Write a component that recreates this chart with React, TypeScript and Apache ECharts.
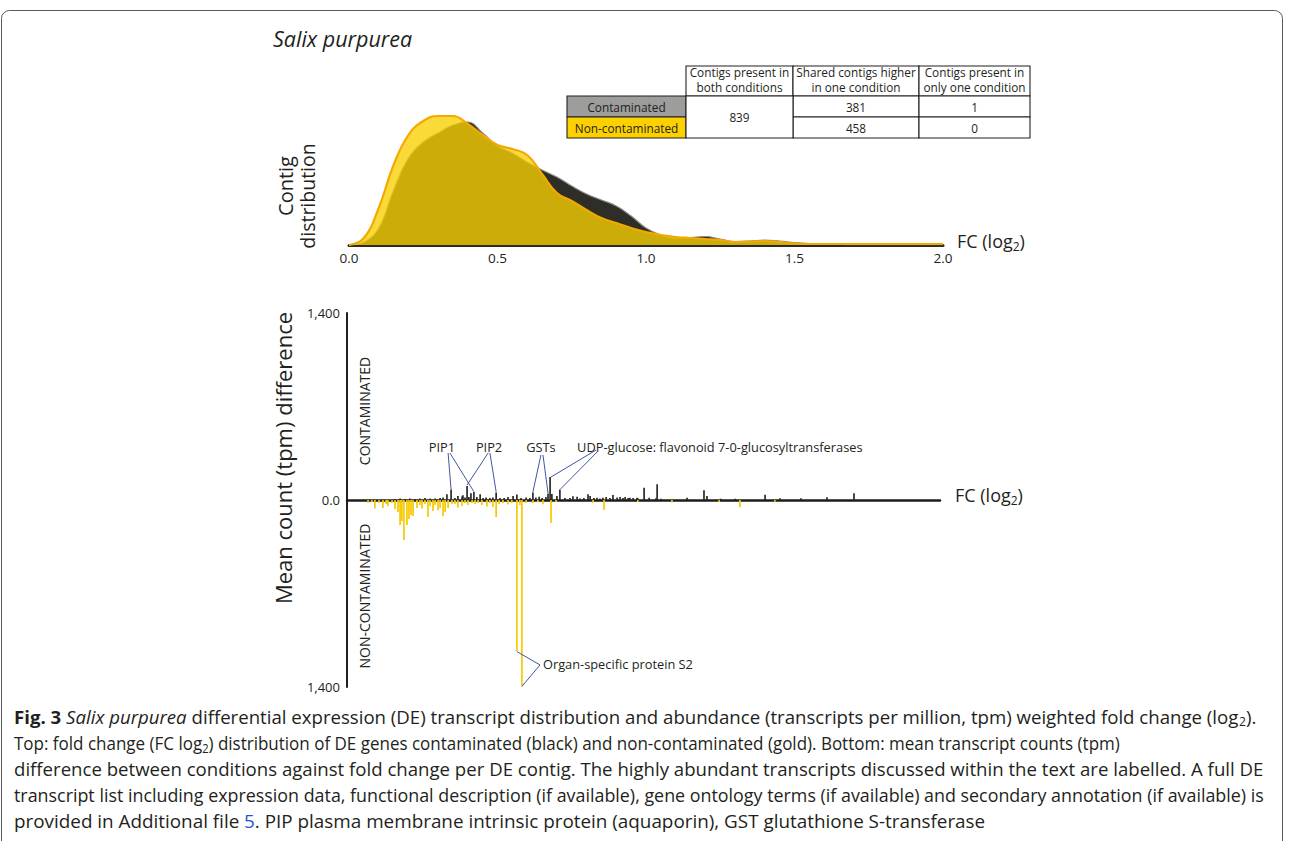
import React, { useEffect, useRef } from "react";
import * as echarts from "echarts";

// ---------- DATA ----------
// Top panel: fold change grid (log2) and contig density (relative units)
const densityFC = [0, 0.05, 0.1, 0.15, 0.2, 0.25, 0.3, 0.35, 0.4, 0.45, 0.5, 0.55, 0.6, 0.65, 0.7, 0.75, 0.8, 0.85, 0.9, 0.95, 1, 1.05, 1.1, 1.15, 1.2, 1.25, 1.3, 1.35, 1.4, 1.45, 1.5, 1.55, 1.6, 1.65, 1.7, 1.75, 1.8, 1.85, 1.9, 1.95, 2];
const contaminatedDensity = [0, 3, 17, 55, 87, 103, 112, 120, 123, 112, 99, 92, 83, 75, 68, 59, 51, 45, 39, 29, 17, 10, 7, 7.5, 8.5, 6, 3.5, 4, 5, 4, 2.5, 1.5, 1, 0.5, 0.3, 0.3, 0.3, 0.3, 0.3, 0.3, 0.3];
const nonContaminatedDensity = [0, 7, 37, 80, 110, 124, 129, 129, 121, 110, 100, 96, 90, 71, 52, 44, 35, 27, 22, 17, 13, 10, 8, 7, 6, 5, 3, 3.5, 4, 3, 1.5, 1, 1, 1, 1, 1, 1, 1, 1, 1, 1];
const fcTickLabels = ["0.0", "0.5", "1.0", "1.5", "2.0"];

// Bottom panel: [fold change (log2), mean count (tpm) difference]
const contaminatedBars: [number, number][] = [
  [0.162, 7], [0.179, 11], [0.196, 7], [0.212, 11], [0.229, 7], [0.246, 11], [0.263, 15], [0.28, 11], [0.297, 11], [0.314, 15],
  [0.324, 19], [0.337, 43], [0.351, 79], [0.364, 15], [0.374, 30], [0.388, 26], [0.391, 35], [0.398, 19], [0.405, 105], [0.411, 22],
  [0.418, 50], [0.428, 60], [0.438, 22], [0.449, 43], [0.459, 15], [0.469, 19], [0.482, 15], [0.492, 19], [0.503, 56], [0.516, 15],
  [0.53, 15], [0.543, 22], [0.56, 30], [0.573, 41], [0.587, 15], [0.604, 19], [0.617, 15], [0.627, 56], [0.637, 19], [0.648, 25],
  [0.658, 15], [0.671, 22], [0.678, 49], [0.685, 172], [0.691, 45], [0.708, 30], [0.718, 79], [0.735, 15], [0.752, 15], [0.762, 28],
  [0.776, 25], [0.786, 11], [0.799, 15], [0.813, 43], [0.82, 30], [0.833, 15], [0.843, 17], [0.853, 11], [0.863, 17], [0.874, 22],
  [0.887, 15], [0.897, 37], [0.911, 19], [0.921, 22], [0.931, 15], [0.938, 22], [0.948, 15], [0.954, 17], [0.965, 15], [0.978, 17],
  [0.981, 13], [1.002, 92], [1.019, 17], [1.042, 13], [1.046, 118], [1.059, 10], [1.147, 17], [1.204, 73], [1.214, 30], [1.261, 10],
  [1.309, 10], [1.41, 40], [1.46, 13], [1.531, 13], [1.619, 20], [1.71, 50],
];
const nonContaminatedBars: [number, number][] = [
  [0.071, 22], [0.084, 15], [0.094, 64], [0.108, 22], [0.121, 60], [0.132, 30], [0.138, 45], [0.152, 22], [0.162, 67], [0.172, 90],
  [0.179, 187], [0.185, 157], [0.192, 300], [0.202, 187], [0.209, 142], [0.216, 112], [0.223, 120], [0.236, 60], [0.246, 37], [0.253, 64],
  [0.263, 30], [0.273, 127], [0.28, 45], [0.29, 82], [0.297, 37], [0.307, 75], [0.314, 60], [0.324, 120], [0.331, 90], [0.341, 60],
  [0.354, 30], [0.364, 30], [0.374, 56], [0.388, 45], [0.398, 22], [0.408, 37], [0.422, 22], [0.432, 30], [0.442, 22], [0.455, 37],
  [0.472, 49], [0.482, 22], [0.492, 52], [0.503, 127], [0.513, 30], [0.526, 22], [0.543, 34], [0.556, 22], [0.573, 1130], [0.583, 37],
  [0.59, 1395], [0.604, 22], [0.627, 22], [0.644, 15], [0.661, 32], [0.688, 172], [0.705, 15], [0.83, 20], [0.867, 75], [0.981, 15],
  [1.096, 19], [1.255, 15], [1.325, 52], [1.443, 13],
];
const yAxisMax = 1400;

// Summary table
const tableHeaders = ["Contigs present in\nboth conditions", "Shared contigs higher\nin one condition", "Contigs present in\nonly one condition"];
const tableRows = ["Contaminated", "Non-contaminated"];
const presentInBoth = 839;
const higherInOne = [381, 458];
const presentInOnlyOne = [1, 0];

// Annotations (data coordinates of the bottom panel)
const annotationTexts = ["PIP1", "PIP2", "GSTs", "UDP-glucose: flavonoid 7-0-glucosyltransferases", "Organ-specific protein S2"];
const annotationAnchors: [number, number][] = [[0.32, 397], [0.479, 397], [0.654, 397], [0.776, 397], [0.661, -1228]];
const annotationAligns = ["center", "center", "center", "left", "left"];
const leaderLines: [number, number][][] = [
  [[0.341, 352], [0.351, 80]], [[0.347, 352], [0.428, 62]],
  [[0.476, 352], [0.405, 112]], [[0.482, 352], [0.503, 62]],
  [[0.654, 337], [0.627, 60]], [[0.661, 337], [0.678, 52]],
  [[0.84, 374], [0.688, 172]], [[0.847, 367], [0.72, 82]],
  [[0.651, -1235], [0.573, -1135]], [[0.651, -1235], [0.59, -1395]],
];

// Caption
const captionLines = [
  "{b|Fig. 3} {i|Salix purpurea} differential expression (DE) transcript distribution and abundance (transcripts per million, tpm) weighted fold change (log{sub|2}).",
  "Top: fold change (FC log{sub|2}) distribution of DE genes contaminated (black) and non-contaminated (gold). Bottom: mean transcript counts (tpm)",
  "difference between conditions against fold change per DE contig. The highly abundant transcripts discussed within the text are labelled. A full DE",
  "transcript list including expression data, functional description (if available), gene ontology terms (if available) and secondary annotation (if available) is",
  "provided in Additional file {link|5}. PIP plasma membrane intrinsic protein (aquaporin), GST glutathione S-transferase",
];

// ---------- STYLE / LAYOUT ----------
const FONT = '"Open Sans", "Noto Sans", sans-serif';
const INK = "#231F20";
const GOLD = "#F9D000";
const BLACK_AREA = "#2E2D28";
const BLUE = "#4355A3";
const CAPTION_SIZE = 18.4;
const captionWidths = [1242, 1106, 1249, 1250, 971];
const captionY = [717, 743, 769, 795, 821];

function rich(size: number) {
  return {
    b: { fontSize: size, fontFamily: FONT, fontWeight: "bold", fill: INK },
    i: { fontSize: size, fontFamily: FONT, fontStyle: "italic", fill: INK },
    sub: { fontSize: Math.round(size * 0.65), fontFamily: FONT, fill: INK, padding: [Math.round(size * 0.55), 0, 0, 0] },
    link: { fontSize: size, fontFamily: FONT, fill: "#2C4FD8" },
  };
}

function measureRich(line: string, size: number): number {
  const ctx = document.createElement("canvas").getContext("2d");
  if (!ctx) return 0;
  const font = (style: string, weight: string, s: number) => `${style} ${weight} ${s}px ${FONT}`;
  const re = /\{(\w+)\|([^}]*)\}/g;
  let w = 0;
  let last = 0;
  let m: RegExpExecArray | null;
  while ((m = re.exec(line))) {
    ctx.font = font("normal", "normal", size);
    w += ctx.measureText(line.slice(last, m.index)).width;
    const k = m[1];
    if (k === "b") ctx.font = font("normal", "bold", size);
    else if (k === "i") ctx.font = font("italic", "normal", size);
    else if (k === "sub") ctx.font = font("normal", "normal", Math.round(size * 0.65));
    else ctx.font = font("normal", "normal", size);
    w += ctx.measureText(m[2]).width;
    last = re.lastIndex;
  }
  ctx.font = font("normal", "normal", size);
  w += ctx.measureText(line.slice(last)).width;
  return w;
}

function text(x: number, y: number, t: string, size: number, opts: any = {}) {
  const { rotation, align, italic, richStyle, fill, lineHeight, scaleX } = opts;
  return {
    type: "text",
    x,
    y,
    rotation: rotation || 0,
    scaleX: scaleX || 1,
    silent: true,
    style: {
      text: t,
      fill: fill || INK,
      fontSize: size,
      fontFamily: FONT,
      fontStyle: italic ? "italic" : "normal",
      textAlign: align || "center",
      verticalAlign: "middle",
      textVerticalAlign: "middle",
      lineHeight: lineHeight,
      rich: richStyle,
    },
  };
}

function buildTable() {
  const colX = [567, 686, 793, 919, 1030];
  const rowY = [66, 96, 117, 138];
  const els: any[] = [];
  const fs = 11.8;
  const cell = (x1: number, y1: number, x2: number, y2: number, fill: string) => ({
    type: "rect",
    silent: true,
    shape: { x: x1, y: y1, width: x2 - x1, height: y2 - y1 },
    style: { fill, stroke: INK, lineWidth: 1.1 },
  });
  tableHeaders.forEach((h, c) => {
    els.push(cell(colX[c + 1], rowY[0], colX[c + 2], rowY[1], "#ffffff"));
    els.push(text((colX[c + 1] + colX[c + 2]) / 2, 79.5, h, fs, { lineHeight: 15 }));
  });
  const rowFills = ["#9D9D9C", "#FDD100"];
  tableRows.forEach((r, i) => {
    const cy = (rowY[i + 1] + rowY[i + 2]) / 2;
    els.push(cell(colX[0], rowY[i + 1], colX[1], rowY[i + 2], rowFills[i]));
    els.push(text((colX[0] + colX[1]) / 2, cy, r, fs));
    els.push(cell(colX[2], rowY[i + 1], colX[3], rowY[i + 2], "#ffffff"));
    els.push(text((colX[2] + colX[3]) / 2, cy, String(higherInOne[i]), fs));
    els.push(cell(colX[3], rowY[i + 1], colX[4], rowY[i + 2], "#ffffff"));
    els.push(text((colX[3] + colX[4]) / 2, cy, String(presentInOnlyOne[i]), fs));
  });
  els.push(cell(colX[1], rowY[1], colX[2], rowY[3], "#ffffff"));
  els.push(text((colX[1] + colX[2]) / 2, (rowY[1] + rowY[3]) / 2, String(presentInBoth), fs));
  return els;
}

export default function App() {
  const ref = useRef<HTMLDivElement>(null);

  useEffect(() => {
    document.body.style.margin = "0";
    const chart = echarts.init(ref.current!, null, { renderer: "svg" });
    const option: any = {
      animation: false,
      backgroundColor: "#ffffff",
      textStyle: { fontFamily: FONT },
      grid: [
        { left: 349, top: 110, width: 594, height: 135 },
        { left: 347, top: 313, width: 593, height: 374 },
      ],
      xAxis: [
        {
          type: "value", gridIndex: 0, min: 0, max: 2, interval: 0.5,
          axisLine: { show: true, lineStyle: { color: "#2B2A25", width: 3 } },
          axisTick: { show: false }, splitLine: { show: false },
          axisLabel: { color: INK, fontSize: 13.5, margin: 6, formatter: (v: number) => fcTickLabels[Math.round(v / 0.5)] ?? "" },
        },
        {
          type: "value", gridIndex: 1, min: 0, max: 2,
          axisLine: { show: true, onZero: true, lineStyle: { color: "#1E1C1A", width: 2.5 } },
          axisTick: { show: false }, splitLine: { show: false }, axisLabel: { show: false },
        },
      ],
      yAxis: [
        { type: "value", gridIndex: 0, min: 0, max: 135, show: false },
        {
          type: "value", gridIndex: 1, min: -yAxisMax, max: yAxisMax, interval: yAxisMax,
          axisLine: { show: true, onZero: false, lineStyle: { color: INK, width: 2 } },
          axisTick: { show: false }, splitLine: { show: false },
          axisLabel: { color: INK, fontSize: 13, margin: 7, formatter: (v: number) => (v === 0 ? "0.0" : Math.abs(v).toLocaleString("en-US")) },
        },
      ],
      series: [
        {
          name: "Contaminated", type: "line", xAxisIndex: 0, yAxisIndex: 0, smooth: 0.45, symbol: "none", z: 2,
          data: densityFC.map((x, i) => [x, contaminatedDensity[i]]),
          lineStyle: { color: "#8E8C84", width: 1.2 },
          areaStyle: { color: BLACK_AREA, opacity: 1 },
        },
        {
          name: "Non-contaminated", type: "line", xAxisIndex: 0, yAxisIndex: 0, smooth: 0.45, symbol: "none", z: 3,
          data: densityFC.map((x, i) => [x, nonContaminatedDensity[i]]),
          lineStyle: { color: "#F3AA00", width: 2.2 },
          areaStyle: { color: GOLD, opacity: 0.78 },
        },
        {
          name: "Contaminated tpm", type: "bar", xAxisIndex: 1, yAxisIndex: 1, barWidth: 1.7, barGap: "-100%",
          data: contaminatedBars.map(([x, v]) => [x, v]),
          itemStyle: { color: "#2A2A28" },
        },
        {
          name: "Non-contaminated tpm", type: "bar", xAxisIndex: 1, yAxisIndex: 1, barWidth: 1.7, barGap: "-100%",
          data: nonContaminatedBars.map(([x, v]) => [x, -v]),
          itemStyle: { color: "#F7C900" },
        },
      ],
    };
    chart.setOption(option);

    const toPx = (p: [number, number]) => chart.convertToPixel({ xAxisIndex: 1, yAxisIndex: 1 }, p) as number[];

    const graphics: any[] = [];
    graphics.push({
      type: "rect", silent: true, z: -1,
      shape: { x: 1.5, y: 10.5, width: 1281, height: 900, r: 8 },
      style: { fill: "none", stroke: "#5a5a5a", lineWidth: 1 },
    });
    graphics.push(text(273, 38, "Salix purpurea", 21.5, { align: "left", italic: true }));
    graphics.push(text(285, 186, "Contig", 20, { rotation: Math.PI / 2 }));
    graphics.push(text(307, 196, "distribution", 19.5, { rotation: Math.PI / 2 }));
    graphics.push(text(957, 241, "FC (log{sub|2})", 18, { align: "left", richStyle: rich(18) }));
    graphics.push(...buildTable());

    graphics.push(text(283, 458, "Mean count (tpm) difference", 22, { rotation: Math.PI / 2 }));
    graphics.push(text(364, 411, "CONTAMINATED", 14, { rotation: Math.PI / 2 }));
    graphics.push(text(364, 596, "NON-CONTAMINATED", 14, { rotation: Math.PI / 2 }));
    graphics.push(text(955, 495, "FC (log{sub|2})", 18, { align: "left", richStyle: rich(18) }));

    leaderLines.forEach(([a, b]) => {
      const p1 = toPx(a);
      const p2 = toPx(b);
      graphics.push({
        type: "line", silent: true, z: 10,
        shape: { x1: p1[0], y1: p1[1], x2: p2[0], y2: p2[1] },
        style: { stroke: BLUE, lineWidth: 1 },
      });
    });
    annotationTexts.forEach((t, i) => {
      const p = toPx(annotationAnchors[i]);
      graphics.push(text(p[0], p[1], t, 12.8, { align: annotationAligns[i] }));
    });

    captionLines.forEach((line, i) => {
      const measured = measureRich(line, CAPTION_SIZE);
      let sx = measured > 0 ? captionWidths[i] / measured : 1;
      if (sx < 0.85 || sx > 1.15) sx = 1;
      graphics.push(text(14, captionY[i], line, CAPTION_SIZE, { align: "left", richStyle: rich(CAPTION_SIZE), scaleX: sx }));
    });

    chart.setOption({ graphic: graphics });
    return () => chart.dispose();
  }, []);

  return <div ref={ref} style={{ position: "absolute", left: 0, top: 0, width: 1290, height: 841 }} />;
}
